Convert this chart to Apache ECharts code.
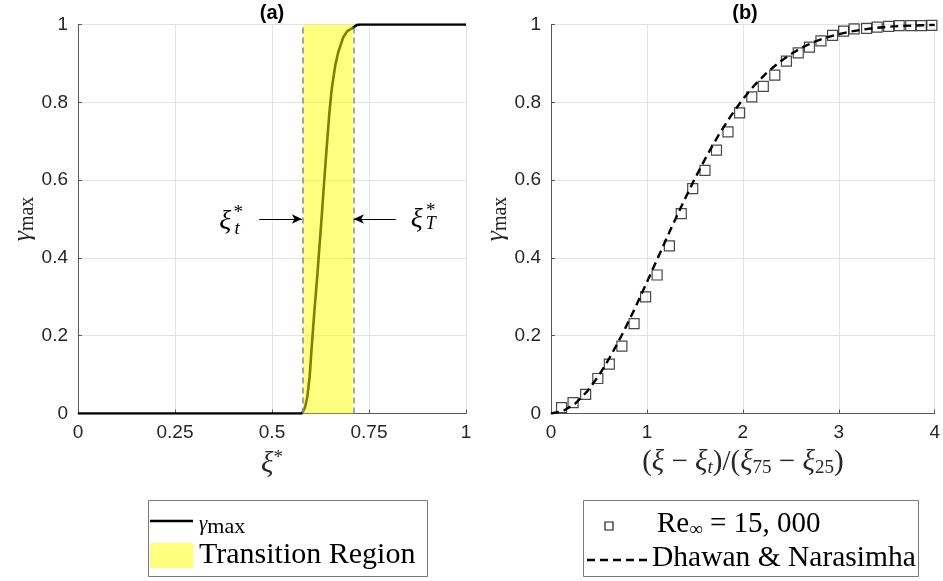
<!DOCTYPE html>
<html>
<head>
<meta charset="utf-8">
<script src="https://cdn.jsdelivr.net/npm/echarts@6/dist/echarts.min.js"></script>
<style>
  html, body { margin: 0; padding: 0; background: #fff; }
  #chart { width: 943px; height: 581px; }
</style>
</head>
<body>
<div id="chart"></div>
<script>
// Panel (a): maximum intermittency against normalised streamwise position
const xiStar = [0, 0.577, 0.585, 0.591, 0.597, 0.603, 0.609, 0.616, 0.622, 0.628, 0.634,
  0.641, 0.648, 0.654, 0.663, 0.671, 0.684, 0.694, 0.706, 0.719, 0.727, 1];
const gammaMax = [0, 0, 0.015, 0.043, 0.094, 0.180, 0.260, 0.345, 0.425, 0.505, 0.590,
  0.685, 0.775, 0.835, 0.895, 0.930, 0.968, 0.983, 0.990, 0.999, 1, 1];

// Transition region bounds (xi*_t and xi*_T)
const transitionStart = 0.579;
const transitionEnd = 0.708;

// Panel (b): measured intermittency against the similarity coordinate
const etaExp = [0.110, 0.230, 0.361, 0.488, 0.608, 0.739, 0.866, 0.986, 1.106, 1.234,
  1.358, 1.477, 1.605, 1.725, 1.845, 1.966, 2.093, 2.213, 2.333, 2.454, 2.577, 2.694,
  2.814, 2.935, 3.050, 3.160, 3.290, 3.400, 3.520, 3.630, 3.750, 3.860, 3.970];
const gammaExp = [0.015, 0.028, 0.049, 0.090, 0.127, 0.173, 0.231, 0.300, 0.356, 0.431,
  0.514, 0.578, 0.625, 0.677, 0.724, 0.773, 0.814, 0.841, 0.870, 0.906, 0.927, 0.942,
  0.958, 0.972, 0.983, 0.989, 0.990, 0.993, 0.995, 0.997, 0.997, 0.997, 0.998];

// Dhawan & Narasimha universal intermittency distribution
const etaModel = [0, 0.125, 0.25, 0.375, 0.5, 0.625, 0.75, 0.875, 1, 1.125, 1.25, 1.375,
  1.5, 1.625, 1.75, 1.875, 2, 2.125, 2.25, 2.375, 2.5, 2.625, 2.75, 2.875, 3, 3.125,
  3.25, 3.375, 3.5, 3.625, 3.75, 3.875, 4];
const gammaModel = [0, 0.006, 0.025, 0.056, 0.098, 0.149, 0.207, 0.270, 0.338, 0.406,
  0.475, 0.541, 0.604, 0.663, 0.717, 0.765, 0.808, 0.845, 0.876, 0.902, 0.924, 0.942,
  0.956, 0.967, 0.975, 0.982, 0.987, 0.991, 0.994, 0.996, 0.997, 0.998, 0.999];

// Tick values
const xTicksA = { min: 0, max: 1, interval: 0.25 };
const xTicksB = { min: 0, max: 4, interval: 1 };
const yTicks = { min: 0, max: 1, interval: 0.2 };

const SANS = '"Liberation Sans", Arial, sans-serif';
const SERIF = '"Liberation Serif", "DejaVu Serif", serif';
const AXIS_COLOR = '#595959';
const TEXT_COLOR = '#262626';
const GRID_COLOR = '#e3e3e3';

const zip = (a, b) => a.map((v, i) => [v, b[i]]);

function valueAxis(ticks, extra) {
  return Object.assign({
    type: 'value',
    min: ticks.min, max: ticks.max, interval: ticks.interval,
    axisLine: { show: true, onZero: false, lineStyle: { color: AXIS_COLOR, width: 1 } },
    axisTick: { show: true, inside: true, length: 4, lineStyle: { color: AXIS_COLOR } },
    axisLabel: { color: TEXT_COLOR, fontFamily: SANS, fontSize: 19, margin: 10 },
    splitLine: { show: true, lineStyle: { color: GRID_COLOR, width: 1 } }
  }, extra);
}

const subPad = [12, 0, 0, 0];
const mathRich = {
  i: { fontFamily: SERIF, fontStyle: 'italic', fontSize: 29, color: TEXT_COLOR },
  r: { fontFamily: SERIF, fontSize: 29, color: TEXT_COLOR },
  subi: { fontFamily: SERIF, fontStyle: 'italic', fontSize: 19, color: TEXT_COLOR, padding: subPad },
  sub: { fontFamily: SERIF, fontSize: 19, color: TEXT_COLOR, padding: subPad },
  sup: { fontFamily: SERIF, fontSize: 19, color: TEXT_COLOR, padding: [0, 0, 12, 0] },
  g: { fontFamily: SERIF, fontStyle: 'italic', fontSize: 26, color: TEXT_COLOR },
  m: { fontFamily: SERIF, fontSize: 20, color: TEXT_COLOR, padding: [10, 0, 0, 0] }
};

const yName = {
  name: '{g|γ}{m|max}',
  nameLocation: 'middle',
  nameRotate: 90,
  nameGap: 40,
  nameTextStyle: { rich: mathRich }
};

const chart = echarts.init(document.getElementById('chart'), null, { renderer: 'canvas' });

// invisible anchor carrying a piece of the xi*_t / xi*_T annotation text
const annotationLabel = (coord, text, style, dx, dy) => ({
  coord: coord,
  symbol: 'circle', symbolSize: 1,
  itemStyle: { color: 'rgba(0,0,0,0)' },
  label: {
    show: true, position: 'inside', formatter: text, offset: [dx, dy],
    fontFamily: SERIF, color: '#000', ...style
  }
});

const leftArrowStart = [0.467, 0.5];
const rightArrowStart = [0.819, 0.5];

const option = {
  backgroundColor: '#fff',
  animation: false,
  title: [
    { text: '(a)', left: 272, top: 3, textAlign: 'center', padding: 0,
      textStyle: { fontFamily: SANS, fontWeight: 'bold', fontSize: 20, color: '#000' } },
    { text: '(b)', left: 745, top: 3, textAlign: 'center', padding: 0,
      textStyle: { fontFamily: SANS, fontWeight: 'bold', fontSize: 20, color: '#000' } }
  ],
  grid: [
    { left: 78, top: 24.5, width: 388, height: 389 },
    { left: 551, top: 24.5, width: 388, height: 389 }
  ],
  xAxis: [
    valueAxis(xTicksA, {
      gridIndex: 0,
      name: '{i|ξ}{sup|*}', nameLocation: 'middle', nameGap: 35,
      nameTextStyle: { rich: mathRich }
    }),
    valueAxis(xTicksB, {
      gridIndex: 1,
      name: '{r|(}{i|ξ}{r| − }{i|ξ}{subi|t}{r|)/(}{i|ξ}{sub|75}{r| − }{i|ξ}{sub|25}{r|)}',
      nameLocation: 'middle', nameGap: 33,
      nameTextStyle: { rich: mathRich }
    })
  ],
  yAxis: [
    valueAxis(yTicks, Object.assign({ gridIndex: 0 }, yName)),
    valueAxis(yTicks, Object.assign({ gridIndex: 1 }, yName))
  ],
  series: [
    {
      name: 'γmax',
      type: 'line',
      xAxisIndex: 0, yAxisIndex: 0,
      data: zip(xiStar, gammaMax),
      symbol: 'none',
      z: 2,
      lineStyle: { color: '#000', width: 2.6 }
    },
    {
      name: 'Transition Region',
      type: 'line',
      xAxisIndex: 0, yAxisIndex: 0,
      data: [],
      z: 3,
      markArea: {
        silent: true,
        z: 3,
        itemStyle: { color: 'rgba(255,255,0,0.5)' },
        data: [[{ xAxis: transitionStart }, { xAxis: transitionEnd }]]
      },
      markLine: {
        silent: true,
        z: 5,
        symbol: 'none',
        label: { show: false },
        data: [
          { xAxis: transitionStart, lineStyle: { color: '#8a8a8a', width: 1.5, type: [6, 4] } },
          { xAxis: transitionEnd, lineStyle: { color: '#8a8a8a', width: 1.5, type: [6, 4] } },
          [
            { coord: leftArrowStart, symbol: 'none', lineStyle: { color: '#000', width: 1, type: 'solid' } },
            { coord: [transitionStart - 0.002, 0.5], symbol: 'arrow', symbolSize: [7, 10] }
          ],
          [
            { coord: rightArrowStart, symbol: 'none', lineStyle: { color: '#000', width: 1, type: 'solid' } },
            { coord: [transitionEnd + 0.003, 0.5], symbol: 'arrow', symbolSize: [7, 10] }
          ]
        ]
      },
      markPoint: {
        silent: true,
        z: 6,
        data: [
          annotationLabel(leftArrowStart, 'ξ', { fontSize: 28, fontStyle: 'italic' }, -34, 3),
          annotationLabel(leftArrowStart, '*', { fontSize: 19 }, -21, -6),
          annotationLabel(leftArrowStart, 't', { fontSize: 19, fontStyle: 'italic' }, -22, 10),
          annotationLabel(rightArrowStart, 'ξ', { fontSize: 28, fontStyle: 'italic' }, 21, 1),
          annotationLabel(rightArrowStart, '*', { fontSize: 19 }, 35, -8),
          annotationLabel(rightArrowStart, 'T', { fontSize: 18, fontStyle: 'italic' }, 35, 5)
        ]
      }
    },
    {
      name: 'Re∞ = 15, 000',
      type: 'scatter',
      xAxisIndex: 1, yAxisIndex: 1,
      data: zip(etaExp, gammaExp),
      symbol: 'rect',
      symbolSize: 10,
      z: 2,
      itemStyle: { color: 'rgba(255,255,255,0)', borderColor: '#1a1a1a', borderWidth: 1.2 }
    },
    {
      name: 'Dhawan & Narasimha',
      type: 'line',
      xAxisIndex: 1, yAxisIndex: 1,
      data: zip(etaModel, gammaModel),
      symbol: 'none',
      z: 3,
      lineStyle: { color: '#000', width: 2.4, type: [8, 5] }
    }
  ],
  graphic: [
    // legend for panel (a)
    {
      type: 'group',
      children: [
        { type: 'rect', shape: { x: 148.5, y: 500.5, width: 279, height: 76 },
          style: { fill: '#fff', stroke: '#7a7a7a', lineWidth: 1 } },
        { type: 'line', shape: { x1: 150, y1: 521, x2: 193, y2: 521 },
          style: { stroke: '#000', lineWidth: 2.6 } },
        { type: 'rect', shape: { x: 150, y: 543, width: 43, height: 25 },
          style: { fill: 'rgba(255,255,0,0.5)' } },
        { type: 'text', x: 199, y: 524,
          style: { text: '{g|γ}{m|max}', verticalAlign: 'middle', fill: '#000',
            rich: {
              g: { fontFamily: SERIF, fontStyle: 'italic', fontSize: 21, fill: '#000' },
              m: { fontFamily: SERIF, fontSize: 22, fill: '#000', padding: [6, 0, 0, 0] }
            } } },
        { type: 'text', x: 199, y: 555,
          style: { text: 'Transition Region', fontFamily: SERIF, fontSize: 30,
            fill: '#000', verticalAlign: 'middle' } }
      ]
    },
    // legend for panel (b)
    {
      type: 'group',
      children: [
        { type: 'rect', shape: { x: 583.5, y: 500.5, width: 335, height: 76 },
          style: { fill: '#fff', stroke: '#7a7a7a', lineWidth: 1 } },
        { type: 'rect', shape: { x: 605, y: 522, width: 8, height: 8 },
          style: { fill: 'none', stroke: '#1a1a1a', lineWidth: 1.2 } },
        { type: 'line', shape: { x1: 587, y1: 560, x2: 650, y2: 560 },
          style: { stroke: '#000', lineWidth: 2.4, lineDash: [8, 5] } },
        { type: 'text', x: 657, y: 524,
          style: { text: '{r|Re}{s|∞}{r| = 15, 000}', verticalAlign: 'middle', fill: '#000',
            rich: {
              r: { fontFamily: SERIF, fontSize: 29, fill: '#000' },
              s: { fontFamily: SERIF, fontSize: 19, fill: '#000', padding: [12, 0, 0, 0] }
            } } },
        { type: 'text', x: 652, y: 558,
          style: { text: 'Dhawan & Narasimha', fontFamily: SERIF, fontSize: 29.5,
            fill: '#000', verticalAlign: 'middle' } }
      ]
    }
  ]
};

chart.setOption(option);
</script>
</body>
</html>
